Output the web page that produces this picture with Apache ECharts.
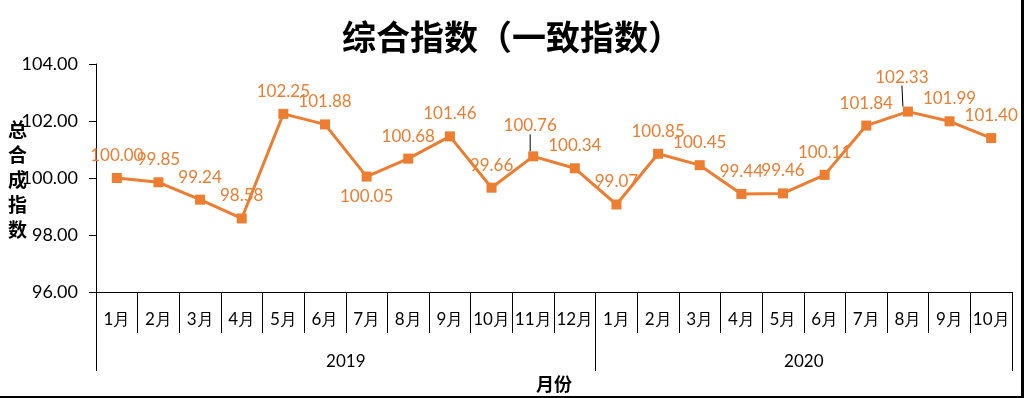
<!DOCTYPE html>
<html>
<head>
<meta charset="utf-8">
<script src="https://cdn.jsdelivr.net/npm/echarts@6/dist/echarts.min.js"></script>
<style>
	html, body { margin: 0; padding: 0; background: #fff; }
	#chart { width: 1024px; height: 398px; }
</style>
</head>
<body>
<div id="chart"></div>
<script>
var months = ['1月', '2月', '3月', '4月', '5月', '6月', '7月', '8月', '9月', '10月', '11月', '12月',
	'1月', '2月', '3月', '4月', '5月', '6月', '7月', '8月', '9月', '10月'];
var years = ['2019', '2020'];
var monthsPerYear = [12, 10];
var values = [100.00, 99.85, 99.24, 98.58, 102.25, 101.88, 100.05, 100.68, 101.46, 99.66, 100.76, 100.34,
	99.07, 100.85, 100.45, 99.44, 99.46, 100.11, 101.84, 102.33, 101.99, 101.40];
var yTicks = [96, 98, 100, 102, 104];

var orange = '#ed7d31';
var cjk = '"Noto Sans CJK SC", sans-serif';
var num = 'Lato, "Noto Sans", sans-serif';

/* 年份分隔位置与标签中心 */
var bounds = [0];
var centers = [];
for (var i = 0; i < monthsPerYear.length; i++) {
	centers.push(bounds[i] + monthsPerYear[i] / 2);
	bounds.push(bounds[i] + monthsPerYear[i]);
}

/* 个别标签：放在下方 / 抬高并加引线 */
var labelBelow = [6];
var labelRaised = { 10: [-3, -8], 19: [-6, -12] };

var seriesData = values.map(function (v, idx) {
	var item = { value: v };
	if (labelBelow.indexOf(idx) >= 0) {
		item.label = { position: 'bottom', distance: 6 };
	}
	if (labelRaised[idx] !== undefined) {
		item.labelLine = { show: true, lineStyle: { color: '#000', width: 1 } };
	}
	return item;
});

var chart = echarts.init(document.getElementById('chart'));
var option = {
	backgroundColor: '#fff',
	animation: false,
	title: {
		text: '综合指数（一致指数）',
		left: 'center',
		top: 15,
		textStyle: {
			fontFamily: cjk,
			fontSize: 34,
			fontWeight: 'bold',
			color: '#000'
		}
	},
	grid: {
		left: 96,
		right: 12,
		top: 64,
		bottom: 106
	},
	xAxis: [{
		type: 'category',
		data: months,
		boundaryGap: true,
		axisLine: { lineStyle: { color: '#000', width: 1 } },
		axisTick: {
			show: true,
			interval: 0,
			length: 41,
			lineStyle: { color: '#000' }
		},
		axisLabel: {
			interval: 0,
			margin: 19,
			color: '#000',
			fontFamily: num,
			fontSize: 17
		}
	}, {
		type: 'value',
		position: 'bottom',
		offset: 41,
		min: 0,
		max: bounds[bounds.length - 1],
		splitLine: { show: false },
		axisLine: { show: false },
		axisTick: {
			show: true,
			customValues: bounds,
			length: 38,
			lineStyle: { color: '#000' }
		},
		axisLabel: {
			customValues: centers,
			margin: 20,
			color: '#000',
			fontFamily: num,
			fontSize: 17,
			formatter: function (v) {
				var idx = centers.indexOf(v);
				return idx >= 0 ? years[idx] : '';
			}
		},
		name: '月份',
		nameLocation: 'middle',
		nameGap: 42,
		nameTextStyle: {
			fontFamily: cjk,
			fontSize: 18,
			fontWeight: 'bold',
			color: '#000'
		}
	}],
	yAxis: {
		type: 'value',
		min: yTicks[0],
		max: yTicks[yTicks.length - 1],
		interval: 2,
		splitLine: { show: false },
		axisLine: { show: true, lineStyle: { color: '#000' } },
		axisTick: { show: true, length: 7, lineStyle: { color: '#000' } },
		axisLabel: {
			margin: 18,
			color: '#000',
			fontFamily: num,
			fontSize: 18,
			formatter: function (v) { return v.toFixed(2); }
		}
	},
	graphic: [{
		type: 'text',
		left: 8,
		top: 117,
		style: {
			text: '总\n合\n成\n指\n数',
			font: 'bold 19px "Noto Sans CJK SC"',
			lineHeight: 25,
			fill: '#000'
		}
	}, {
		type: 'rect',
		shape: { x: 1021, y: 0, width: 3, height: 398 },
		style: { fill: '#000' }
	}, {
		type: 'rect',
		shape: { x: 0, y: 396, width: 1024, height: 2 },
		style: { fill: '#000' }
	}],
	series: [{
		type: 'line',
		xAxisIndex: 0,
		data: seriesData,
		symbol: 'rect',
		symbolSize: 10,
		itemStyle: { color: orange },
		lineStyle: { color: orange, width: 3 },
		label: {
			show: true,
			position: 'top',
			distance: 9,
			color: orange,
			fontFamily: num,
			fontSize: 17,
			formatter: function (p) { return p.value.toFixed(2); }
		},
		labelLine: { show: false },
		labelLayout: function (params) {
			var d = labelRaised[params.dataIndex];
			return d !== undefined ? { dx: d[0], dy: d[1] } : {};
		}
	}]
};
chart.setOption(option);
</script>
</body>
</html>
